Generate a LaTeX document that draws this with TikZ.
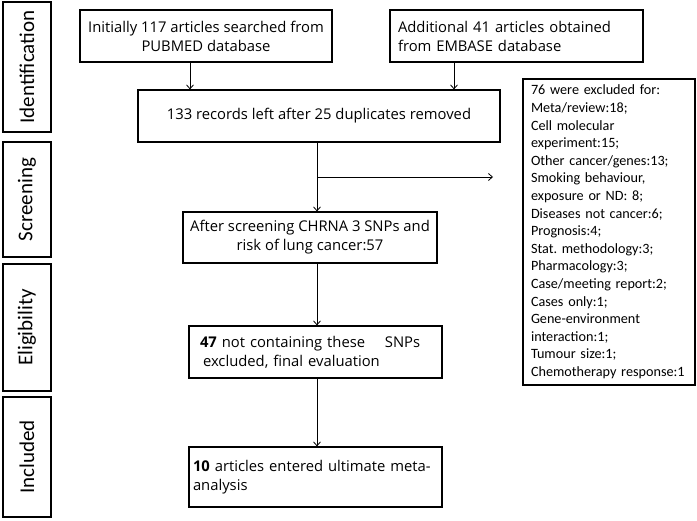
\documentclass[tikz,border=0pt]{standalone}
\usepackage{fontspec}
\setmainfont{Open Sans}
\newfontfamily\calib{Carlito}
\usetikzlibrary{arrows.meta}
\begin{document}
\begin{tikzpicture}[x=1pt, y=-1pt,
            etapa/.style={shape=rectangle, draw=black, line width=1.2pt, rotate=90, minimum height=48pt, inner sep=0pt, font=\calib\fontsize{21}{25}\selectfont},
            caixa/.style={shape=rectangle, draw=black, line width=1.2pt, inner sep=0pt, font=\fontsize{14.8}{19}\selectfont},
            seta/.style={line width=0.8pt, -{Straight Barb[length=4pt,width=7pt]}},
        ]
        \useasboundingbox (0,0) rectangle (697,521);

        \node[etapa, minimum width=130pt] (ident) at (27,67) {Identification};
        \node[etapa, minimum width=115pt] (screening) at (27,199.5) {Screening};
        \node[etapa, minimum width=127pt] (eligib) at (27,327.5) {Eligibility};
        \node[etapa, minimum width=120pt] (inclu) at (27,457) {Included};

        \node[caixa, minimum width=252pt, minimum height=52pt, align=center] (pubmed) at (206,36) {Initially 117 articles searched from\\PUBMED database};
        \node[caixa, minimum height=52pt, inner xsep=8pt, text width=237pt, align=left] (embase) at (516.5,36) {Additional 41 articles obtained\\from EMBASE database};
        \node[caixa, minimum width=362pt, minimum height=52pt] (records) at (319,116) {133 records left after 25 duplicates removed};
        \node[caixa, minimum width=254pt, minimum height=51pt, align=center] (screen) at (310,237.5) {After screening CHRNA 3 SNPs and\\risk of lung cancer:57};
        \node[caixa, minimum height=52pt, inner xsep=11pt, text width=231pt, align=left] (notcont) at (315.5,352) {\textbf{47} not containing these\ \ \ \ SNPs\\\hspace*{3pt}excluded, final evaluation};
        \node[caixa, minimum height=60pt, inner xsep=4pt, text width=245pt, align=left] (final) at (315.5,477) {\textbf{10} articles entered ultimate meta-\\analysis};
        \node[caixa, minimum height=306pt, inner xsep=8pt, text width=156pt, align=left, font=\calib\fontsize{14.2}{17.6}\selectfont] (excl) at (609,232) {76 were excluded for:\\Meta/review:18;\\Cell molecular\\experiment:15;\\Other cancer/genes:13;\\Smoking behaviour,\\exposure or ND: 8;\\Diseases not cancer:6;\\Prognosis:4;\\Stat.\ methodology:3;\\Pharmacology:3;\\Case/meeting report:2;\\Cases only:1;\\Gene-environment\\interaction:1;\\Tumour size:1;\\Chemotherapy\ response:1};

        \coordinate (c1) at (190,0);
        \coordinate (c2) at (454,0);
        \coordinate (eixo) at (317,0);
        \coordinate (desvio) at (317,177);
        \coordinate (fim) at (493,177);

        \draw[seta] (c1 |- pubmed.south) -- (c1 |- records.north);
        \draw[seta] (c2 |- embase.south) -- (c2 |- records.north);
        \draw[seta] (eixo |- records.south) -- (eixo |- screen.north);
        \draw[seta] (desvio) -- (fim);
        \draw[seta] (eixo |- screen.south) -- (eixo |- notcont.north);
        \draw[seta] (eixo |- notcont.south) -- (eixo |- final.north);

    \end{tikzpicture}
\end{document}
